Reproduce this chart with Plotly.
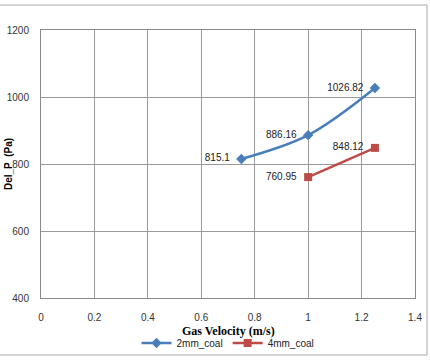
import plotly.graph_objects as go

x_2mm = [0.75, 1.0, 1.25]
y_2mm = [815.1, 886.16, 1026.82]
x_4mm = [1.0, 1.25]
y_4mm = [760.95, 848.12]
series_names = ["2mm_coal", "4mm_coal"]
x_ticks = [0, 0.2, 0.4, 0.6, 0.8, 1, 1.2, 1.4]
y_ticks = [400, 600, 800, 1000, 1200]

L, R, T, B = 41, 15, 30, 62
W, H = 430, 360
pw, ph = W - L - R, H - T - B

def px(x):
    return (x - L) / pw

def py(y):
    return (H - B - y) / ph

lab_font = dict(family="Liberation Sans Narrow, Liberation Sans", size=10, color="#222")

fig = go.Figure()
fig.add_trace(go.Scatter(
    x=x_2mm, y=y_2mm, name=series_names[0], mode="lines+markers+text",
    line=dict(color="#4A7EBB", width=2.5, shape="spline"),
    marker=dict(symbol="diamond", size=8, color="#4A7EBB"),
    text=[str(v) + "  " for v in y_2mm], textposition="middle left",
    textfont=lab_font, cliponaxis=False,
))
fig.add_trace(go.Scatter(
    x=x_4mm, y=y_4mm, name=series_names[1], mode="lines+markers+text",
    line=dict(color="#BE4B48", width=2.5),
    marker=dict(symbol="square", size=8, color="#BE4B48"),
    text=[str(v) + "  " for v in y_4mm], textposition="middle left",
    textfont=lab_font, cliponaxis=False,
))

axis_common = dict(showgrid=True, gridcolor="#9a9a9a", gridwidth=1,
                   showline=True, linecolor="#8a8a8a", linewidth=1, mirror=True,
                   zeroline=False, ticks="outside", tickcolor="rgba(0,0,0,0)",
                   tickfont=dict(family="Liberation Sans Narrow, Liberation Sans", size=10, color="#333"))

fig.update_layout(
    width=W, height=H,
    margin=dict(l=L, r=R, t=T, b=B, autoexpand=False),
    paper_bgcolor="white", plot_bgcolor="white",
    xaxis=dict(range=[0, 1.4], tickvals=x_ticks, ticktext=[str(v) for v in x_ticks],
               ticklen=10, **axis_common),
    yaxis=dict(range=[400, 1200], tickvals=y_ticks, ticklen=9, **axis_common),
    showlegend=True,
    legend=dict(orientation="h", x=0.5, xanchor="center", y=py(343), yanchor="middle",
                font=dict(family="Liberation Sans Narrow, Liberation Sans", size=10, color="#222"),
                itemwidth=30, tracegroupgap=0, bgcolor="rgba(0,0,0,0)",
                borderwidth=0),
    annotations=[
        dict(text="<b>Gas Velocity (m/s)</b>", x=px(228), y=py(331), xref="paper", yref="paper",
             xanchor="center", yanchor="middle", showarrow=False,
             font=dict(family="Liberation Serif", size=12, color="#000")),
        dict(text="<b>Del_P  (Pa)</b>", x=px(8), y=py(164), xref="paper", yref="paper",
             xanchor="center", yanchor="middle", showarrow=False, textangle=-90,
             font=dict(family="Liberation Sans", size=10, color="#000")),
    ],
    shapes=[
        dict(type="rect", xref="paper", yref="paper",
             x0=px(-2), x1=px(427), y0=py(355), y1=py(5),
             line=dict(color="#a8a8a8", width=1), layer="below"),
    ],
)

fig.write_html("out.html")
